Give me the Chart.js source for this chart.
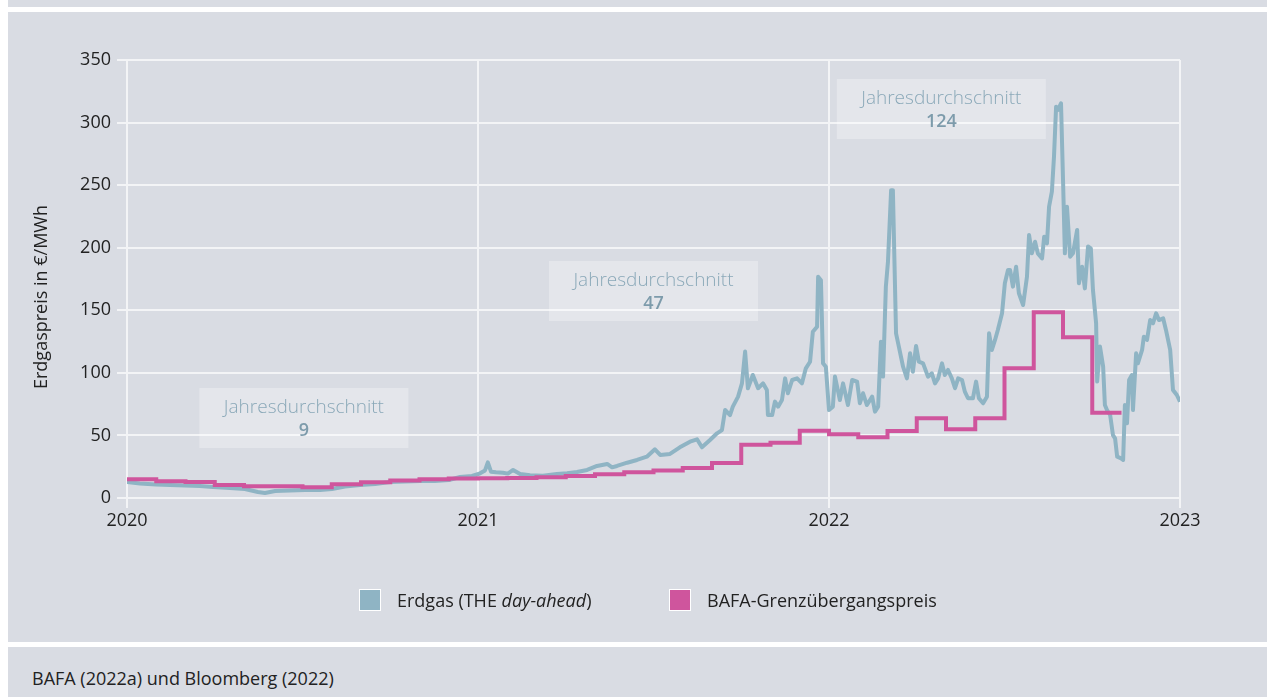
<!DOCTYPE html>
<html lang="de">
<head>
<meta charset="utf-8">
<title>Erdgaspreis</title>
<script src="https://cdn.jsdelivr.net/npm/chart.js@4.4.1/dist/chart.umd.min.js"></script>
<style>
  html, body { margin: 0; padding: 0; background: #fff; }
  body { width: 1267px; height: 697px; position: relative; overflow: hidden; font-family: 'Open Sans', sans-serif; color: #222; }
  #panel { position: absolute; left: 8px; top: 0; width: 1259px; height: 697px; background: #d9dce3; }
  .rule { position: absolute; left: 8px; width: 1259px; height: 5px; background: #fff; }
  #chart { position: absolute; left: 8px; top: 12px; }
  .item { position: absolute; top: 589px; height: 22px; font-size: 18px; line-height: 22px; white-space: nowrap; }
  .swatch { position: absolute; left: 0; top: 0; width: 22px; height: 22px; box-sizing: border-box; border: 1px solid #fff; }
  .item span.txt { position: absolute; left: 38px; top: 0; }
  #source { position: absolute; left: 32px; top: 667px; font-size: 18px; line-height: 22px; }
</style>
</head>
<body>
<div id="panel"></div>
<div class="rule" style="top:7px"></div>
<div class="rule" style="top:642px"></div>
<canvas id="chart" width="1259" height="630"></canvas>
<div class="item" style="left:359px"><div class="swatch" style="background:#8fb4c4"></div><span class="txt">Erdgas (THE <i>day-ahead</i>)</span></div>
<div class="item" style="left:669px"><div class="swatch" style="background:#cf559d"></div><span class="txt">BAFA-Grenzübergangspreis</span></div>
<div id="source">BAFA (2022a) und Bloomberg (2022)</div>
<script>
// Erdgas THE day-ahead, Jahr als Dezimalzahl
const gasYears = [
  2020.000, 2020.037, 2020.083, 2020.123, 2020.165, 2020.208, 2020.245, 2020.293, 2020.336, 2020.373,
  2020.393, 2020.422, 2020.464, 2020.507, 2020.550, 2020.584, 2020.621, 2020.664, 2020.707, 2020.749,
  2020.792, 2020.835, 2020.877, 2020.917, 2020.949, 2020.983,
  2021.006, 2021.020, 2021.028, 2021.037, 2021.051, 2021.071, 2021.085, 2021.100, 2021.120, 2021.148,
  2021.185, 2021.225, 2021.254, 2021.282, 2021.311, 2021.339, 2021.368, 2021.382, 2021.396, 2021.425,
  2021.453, 2021.481, 2021.504, 2021.519, 2021.547, 2021.575, 2021.604, 2021.624, 2021.638, 2021.661,
  2021.681, 2021.695, 2021.704, 2021.718, 2021.726, 2021.741, 2021.752, 2021.761, 2021.769, 2021.783,
  2021.798, 2021.812, 2021.823, 2021.826, 2021.838, 2021.846, 2021.855, 2021.866, 2021.875, 2021.883,
  2021.895, 2021.909, 2021.923, 2021.934, 2021.946, 2021.954, 2021.966, 2021.969, 2021.977, 2021.983,
  2021.991,
  2022.000, 2022.011, 2022.017, 2022.026, 2022.031, 2022.040, 2022.054, 2022.066, 2022.080, 2022.088,
  2022.097, 2022.108, 2022.123, 2022.131, 2022.140, 2022.148, 2022.154, 2022.162, 2022.168, 2022.177,
  2022.182, 2022.191, 2022.199, 2022.211, 2022.222, 2022.231, 2022.239, 2022.248, 2022.256, 2022.268,
  2022.282, 2022.293, 2022.302, 2022.311, 2022.322, 2022.330, 2022.339, 2022.350, 2022.359, 2022.368,
  2022.379, 2022.387, 2022.396, 2022.410, 2022.419, 2022.427, 2022.439, 2022.450, 2022.456, 2022.464,
  2022.473, 2022.481, 2022.493, 2022.501, 2022.510, 2022.516, 2022.524, 2022.533, 2022.541, 2022.553,
  2022.564, 2022.570, 2022.578, 2022.587, 2022.595, 2022.607, 2022.613, 2022.621, 2022.627, 2022.635,
  2022.641, 2022.647, 2022.652, 2022.661, 2022.667, 2022.672, 2022.678, 2022.687, 2022.695, 2022.707,
  2022.712, 2022.721, 2022.729, 2022.738, 2022.746, 2022.752, 2022.761, 2022.764, 2022.772, 2022.781,
  2022.786, 2022.792, 2022.801, 2022.809, 2022.815, 2022.821, 2022.832, 2022.838, 2022.843, 2022.849,
  2022.855, 2022.863, 2022.866, 2022.875, 2022.880, 2022.892, 2022.897, 2022.906, 2022.915, 2022.923,
  2022.932, 2022.940, 2022.952, 2022.960, 2022.972, 2022.980, 2022.991, 2023.000
];
const gasPrices = [
  12.8, 11.6, 10.8, 10.4, 10.0, 9.6, 8.8, 8.0, 7.2, 4.8,
  4.0, 5.6, 6.0, 6.4, 6.4, 7.2, 9.2, 10.4, 11.2, 12.8,
  13.2, 13.6, 13.6, 14.4, 16.8, 17.6,
  19.7, 22.0, 28.5, 21.0, 20.5, 20.2, 19.5, 22.4, 19.2, 18.1,
  17.8, 19.2, 19.7, 20.8, 22.4, 25.6, 27.2, 24.5, 25.6, 28.2,
  30.4, 33.0, 38.9, 34.4, 35.2, 40.5, 45.0, 46.9, 40.5, 46.3,
  51.7, 54.3, 70.3, 66.3, 73.0, 81.0, 91.6, 117.0, 87.7, 98.3,
  87.7, 91.6, 86.3, 66.3, 66.3, 77.0, 73.0, 78.3, 95.6, 83.7,
  94.3, 95.6, 91.6, 103.6, 108.9, 132.9, 136.9, 176.8, 174.0, 107.6,
  104.9,
  70.3, 73.0, 97.0, 85.0, 78.3, 91.6, 74.3, 94.3, 93.0, 75.7,
  83.7, 74.3, 81.0, 69.0, 73.0, 124.9, 97.0, 168.9, 188.8, 246.0,
  246.0, 131.6, 120.9, 104.9, 95.6, 115.6, 100.9, 121.5, 108.9, 107.6,
  97.0, 99.6, 91.6, 95.6, 107.6, 98.3, 102.3, 95.6, 87.7, 95.6,
  94.3, 85.0, 79.7, 79.7, 93.0, 79.7, 75.7, 81.0, 131.6, 118.3,
  126.3, 134.3, 147.6, 171.6, 182.2, 182.2, 168.9, 184.8, 163.6, 154.2,
  176.8, 210.2, 195.5, 204.8, 195.5, 191.5, 208.8, 203.5, 232.8, 244.8,
  272.7, 312.7, 310.0, 315.4, 251.5, 195.5, 232.8, 192.8, 195.5, 214.2,
  171.6, 184.8, 167.5, 201.0, 199.5, 166.2, 139.6, 93.0, 121.0, 105.0,
  74.3, 70.3, 66.3, 50.3, 47.7, 33.0, 31.7, 30.4, 74.3, 59.7,
  94.3, 98.3, 70.3, 115.6, 107.6, 118.3, 128.9, 126.3, 142.2, 139.6,
  147.6, 142.2, 143.6, 134.3, 118.3, 86.3, 82.3, 77.0
];

// BAFA-Grenzuebergangspreis, Monatswerte ab Januar 2020 (bis Oktober 2022)
const bafaMonthly = [
  15.0, 13.3, 12.8, 10.4, 9.3, 9.3, 8.5, 11.0, 12.5, 14.0, 15.0, 15.5,
  15.7, 16.0, 16.5, 17.5, 19.0, 20.5, 22.0, 24.0, 28.0, 42.5, 44.2, 53.8,
  51.0, 48.5, 53.5, 63.7, 54.9, 63.7, 103.6, 148.4, 128.4, 68.2
];

const yTicks = [0, 50, 100, 150, 200, 250, 300, 350];
const xTicks = [2020, 2021, 2022, 2023];

// Jahresdurchschnitte (Kasten-Mitte in Jahr / Wert)
const avgLabels = ['9', '47', '124'];
const avgYears = [2020.504, 2021.5, 2022.32];
const avgLevels = [63.9, 165.4, 310.8];

const gasData = gasYears.map((x, i) => ({ x: x, y: gasPrices[i] }));
const bafaData = bafaMonthly.map((v, i) => ({ x: 2020 + i / 12, y: v }));
bafaData.push({ x: 2020 + bafaMonthly.length / 12, y: bafaMonthly[bafaMonthly.length - 1] });

const FONT = "'Open Sans', sans-serif";

const avgBoxes = {
  id: 'avgBoxes',
  beforeDatasetsDraw(chart) {
    const ctx = chart.ctx;
    const xs = chart.scales.x, ys = chart.scales.y;
    ctx.save();
    avgLabels.forEach((label, i) => {
      const cx = xs.getPixelForValue(avgYears[i]);
      const cy = ys.getPixelForValue(avgLevels[i]);
      ctx.fillStyle = 'rgba(255,255,255,0.3)';
      ctx.fillRect(cx - 104.5, cy - 30, 209, 60);
      ctx.textAlign = 'center';
      ctx.textBaseline = 'middle';
      ctx.fillStyle = '#8aa8b8';
      ctx.font = '300 19px ' + FONT;
      ctx.fillText('Jahresdurchschnitt', cx, cy - 10);
      ctx.fillStyle = '#7d9bab';
      ctx.font = '600 18px ' + FONT;
      ctx.fillText(label, cx, cy + 13);
    });
    ctx.restore();
  }
};

const yTitle = {
  id: 'yTitle',
  afterDraw(chart) {
    const ctx = chart.ctx;
    ctx.save();
    ctx.translate(34, 285);
    ctx.rotate(-Math.PI / 2);
    ctx.textAlign = 'center';
    ctx.textBaseline = 'middle';
    ctx.fillStyle = '#222';
    ctx.font = '18px ' + FONT;
    ctx.fillText('Erdgaspreis in €/MWh', 0, 0);
    ctx.restore();
  }
};

document.addEventListener("DOMContentLoaded", function () {
  var ctx = document.getElementById('chart').getContext('2d');

  new Chart(ctx, {
    type: 'line',
    data: {
      datasets: [
        {
          label: 'BAFA-Grenzübergangspreis',
          data: bafaData,
          borderColor: '#cf559d',
          borderWidth: 4,
          stepped: 'before',
          pointRadius: 0,
          fill: false,
          order: 0
        },
        {
          label: 'Erdgas (THE day-ahead)',
          data: gasData,
          borderColor: '#8fb4c4',
          borderWidth: 4,
          borderJoinStyle: 'round',
          pointRadius: 0,
          tension: 0,
          fill: false,
          order: 1
        }
      ]
    },
    options: {
      responsive: false,
      animation: false,
      layout: { padding: { left: 0, top: 48, right: 87, bottom: 104 } },
      plugins: {
        legend: { display: false },
        tooltip: { enabled: false }
      },
      scales: {
        x: {
          type: 'linear',
          min: 2020,
          max: 2023,
          afterFit: function (scale) { scale.height = 40; },
          afterBuildTicks: function (scale) { scale.ticks = xTicks.map(v => ({ value: v })); },
          ticks: {
            color: '#222',
            font: { family: FONT, size: 18 },
            padding: 2,
            maxRotation: 0,
            callback: v => String(v)
          },
          grid: { color: '#f3f4f6', lineWidth: 2, tickLength: 10 },
          border: { color: '#f3f4f6', width: 2 }
        },
        y: {
          min: 0,
          max: 350,
          afterFit: function (scale) { scale.width = 119; },
          afterBuildTicks: function (scale) { scale.ticks = yTicks.map(v => ({ value: v })); },
          ticks: {
            color: '#222',
            font: { family: FONT, size: 18 },
            padding: 6
          },
          grid: { color: '#f3f4f6', lineWidth: 2, tickLength: 10 },
          border: { color: '#f3f4f6', width: 2 }
        }
      }
    },
    plugins: [avgBoxes, yTitle]
  });
});
</script>
</body>
</html>
